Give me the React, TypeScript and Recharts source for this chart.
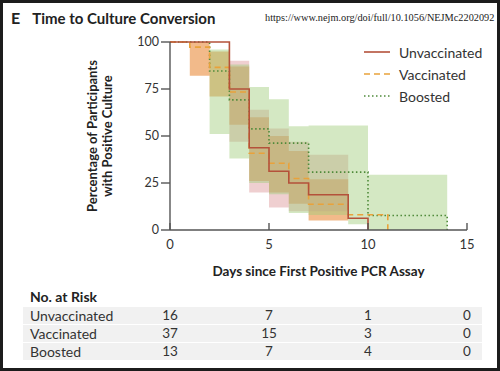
import { Area, ComposedChart, Label, Line, XAxis, YAxis } from 'recharts';

// Kaplan-Meier estimates (percent still culture-positive)
const days = [0, 1, 2, 3, 4, 5, 6, 7, 8, 9, 10, 11, 12, 13, 14, 15];
const unvaccinated = [100, 100, 100, 75, 43.75, 31.25, 25, 18.75, 18.75, 6.25, 0, null, null, null, null, null];
const vaccinated = [100, 97.3, 86.5, 73.4, 40.8, 35.5, 27.4, 13.7, 13.7, 8.1, 8.1, 0, null, null, null, null];
const boosted = [100, 100, 84.6, 69.2, 53.8, 46.2, 46.2, 30.8, 30.8, 30.8, 7.7, 7.7, 7.7, 7.7, 0, null];

// 95% confidence bands
const unvaccinatedLow = [100, 100, 100, 47, 20, 12, 10, 10, 10, 5, null, null, null, null, null, null];
const unvaccinatedHigh = [100, 100, 100, 90, 64, 54, 47, 40, 40, 5, null, null, null, null, null, null];
const vaccinatedLow = [100, 82, 71, 56, 26, 20, 14, 5, 5, 8, null, null, null, null, null, null];
const vaccinatedHigh = [100, 100, 95, 87, 60, 50, 42, 27, 27, 8, null, null, null, null, null, null];
const boostedLow = [100, 100, 51, 38, 25, 19, 9, 8, 8, 3, 0, 0, 0, 0, 0, null];
const boostedHigh = [100, 100, 96, 88, 76, 69.5, 55.2, 55.6, 55.6, 55.6, 29.4, 29.4, 29.4, 29.4, 0, null];

const xTicks = [0, 5, 10, 15];
const yTicks = [0, 25, 50, 75, 100];

const riskDays = [0, 5, 10, 15];
const riskGroups = ['Unvaccinated', 'Vaccinated', 'Boosted'];
const riskUnvaccinated = [16, 7, 1, 0];
const riskVaccinated = [37, 15, 3, 0];
const riskBoosted = [13, 7, 4, 0];

const COLORS = {
  unvaccinated: '#b4513a',
  vaccinated: '#e9a23b',
  boosted: '#4f8a3a',
  unvaccinatedBand: '#d98c8f',
  vaccinatedBand: '#e98c3c',
  boostedBand: '#9fcc7a',
};

const FONT = 'Lato, "Open Sans", sans-serif';

const band = (lo: (number | null)[], hi: (number | null)[], i: number) =>
  lo[i] == null || hi[i] == null ? null : [lo[i], hi[i]];

const data = days.map((d, i) => ({
  day: d,
  unvaccinated: unvaccinated[i],
  vaccinated: vaccinated[i],
  boosted: boosted[i],
  unvaccinatedBand: band(unvaccinatedLow, unvaccinatedHigh, i),
  vaccinatedBand: band(vaccinatedLow, vaccinatedHigh, i),
  boostedBand: band(boostedLow, boostedHigh, i),
}));

const riskRows = [riskUnvaccinated, riskVaccinated, riskBoosted];

// plot geometry (used for the at-risk table columns)
const PLOT_LEFT = 170;
const PLOT_RIGHT = 467;

const XTick = ({ x, y, payload }: any) => (
  <g>
    <line x1={x} x2={x} y1={y} y2={y - 7} stroke="#555" strokeWidth={1.4} />
    <text x={x} y={y + 19} textAnchor="middle" fill="#333" fontSize={13} fontFamily={FONT}>
      {payload.value}
    </text>
  </g>
);

const YTitle = ({ viewBox }: any) => {
  const cy = viewBox.y + viewBox.height / 2;
  return (
    <text
      transform={`translate(100, ${cy}) rotate(-90)`}
      textAnchor="middle"
      fill="#222"
      fontSize={13}
      fontWeight={700}
      fontFamily={FONT}
    >
      <tspan x={0} dy={-3}>Percentage of Participants</tspan>
      <tspan x={0} dy={15}>with Positive Culture</tspan>
    </text>
  );
};

const legendItems = [
  { label: 'Unvaccinated', color: COLORS.unvaccinated, dash: undefined },
  { label: 'Vaccinated', color: COLORS.vaccinated, dash: '6 4' },
  { label: 'Boosted', color: COLORS.boosted, dash: '1.5 2.5' },
];

const LegendBox = () => (
  <div style={{ position: 'absolute', left: 364, top: 41, fontFamily: FONT, fontSize: 14, color: '#333' }}>
    {legendItems.map((it) => (
      <div key={it.label} style={{ display: 'flex', alignItems: 'center', height: 22 }}>
        <svg width={35} height={10}>
          <line x1={0} x2={26} y1={5} y2={5} stroke={it.color} strokeWidth={1.6} strokeDasharray={it.dash} />
        </svg>
        <span>{it.label}</span>
      </div>
    ))}
  </div>
);

export default function App() {
  const colX = (d: number) => PLOT_LEFT + ((PLOT_RIGHT - PLOT_LEFT) * d) / 15;
  return (
    <div
      style={{
        position: 'absolute',
        left: 0,
        top: 0,
        width: 500,
        height: 371,
        boxSizing: 'border-box',
        border: '3px solid #1c1c1c',
        background: '#fff',
        overflow: 'hidden',
      }}
    >
      <div
        style={{
          position: 'absolute',
          left: 8,
          top: 5,
          fontFamily: FONT,
          fontWeight: 700,
          fontSize: 15,
          color: '#222',
          whiteSpace: 'nowrap',
        }}
      >
        <span style={{ marginRight: 12, fontSize: 16 }}>E</span>Time to Culture Conversion
      </div>
      <div
        style={{
          position: 'absolute',
          left: 262,
          top: 9,
          fontFamily: '"Liberation Serif", serif',
          fontSize: 10.3,
          color: '#222',
          whiteSpace: 'nowrap',
        }}
      >
        https://www.nejm.org/doi/full/10.1056/NEJMc2202092
      </div>

      <div style={{ position: 'absolute', left: -3, top: -3 }}>
        <ComposedChart width={500} height={300} data={data} margin={{ top: 42, right: 33, bottom: 20, left: 120 }}>
          <XAxis
            dataKey="day"
            type="number"
            domain={[0, 15]}
            ticks={xTicks}
            height={50}
            stroke="#555"
            strokeWidth={1.4}
            tickLine={false}
            tickSize={0}
            tickMargin={0}
            tick={<XTick />}
          >
            <Label
              value="Days since First Positive PCR Assay"
              position="insideBottom"
              offset={4}
              fill="#222"
              fontSize={13.5}
              fontWeight={700}
              fontFamily={FONT}
            />
          </XAxis>
          <YAxis
            type="number"
            domain={[0, 100]}
            ticks={yTicks}
            width={50}
            stroke="#555"
            strokeWidth={1.4}
            tickSize={9}
            tickMargin={2}
            tick={{ fill: '#333', fontSize: 12.5, fontFamily: FONT }}
          >
            <Label content={<YTitle />} />
          </YAxis>
          <Area
            type="stepAfter"
            dataKey="vaccinatedBand"
            stroke="none"
            fill={COLORS.vaccinatedBand}
            fillOpacity={0.6}
            isAnimationActive={false}
          />
          <Area
            type="stepAfter"
            dataKey="unvaccinatedBand"
            stroke="none"
            fill={COLORS.unvaccinatedBand}
            fillOpacity={0.42}
            isAnimationActive={false}
          />
          <Area
            type="stepAfter"
            dataKey="boostedBand"
            stroke="none"
            fill={COLORS.boostedBand}
            fillOpacity={0.45}
            isAnimationActive={false}
          />
          <Line
            type="stepAfter"
            dataKey="boosted"
            stroke={COLORS.boosted}
            strokeWidth={1.6}
            strokeDasharray="1.5 2.5"
            dot={false}
            isAnimationActive={false}
          />
          <Line
            type="stepAfter"
            dataKey="vaccinated"
            stroke={COLORS.vaccinated}
            strokeWidth={1.6}
            strokeDasharray="6 4"
            dot={false}
            isAnimationActive={false}
          />
          <Line
            type="stepAfter"
            dataKey="unvaccinated"
            stroke={COLORS.unvaccinated}
            strokeWidth={1.6}
            dot={false}
            isAnimationActive={false}
          />
        </ComposedChart>
      </div>

      <div style={{ position: 'absolute', left: -3, top: -3, width: 500, height: 371, fontFamily: FONT, color: '#333' }}>
        <LegendBox />
        <div style={{ position: 'absolute', left: 30, top: 288, fontSize: 14, fontWeight: 700, color: '#222' }}>
          No. at Risk
        </div>
        {riskGroups.map((g, r) => (
          <div
            key={g}
            style={{
              position: 'absolute',
              left: 23,
              top: 307 + r * 18,
              width: 459,
              height: 17,
              background: '#f1f1f1',
            }}
          >
            <span style={{ position: 'absolute', left: 7, top: 0, fontSize: 14, lineHeight: '17px' }}>{g}</span>
            {riskRows[r].map((n, c) => (
              <span
                key={c}
                style={{
                  position: 'absolute',
                  left: colX(riskDays[c]) - 23 - 20,
                  width: 40,
                  textAlign: 'center',
                  top: 0,
                  fontSize: 13.5,
                  lineHeight: '17px',
                }}
              >
                {n}
              </span>
            ))}
          </div>
        ))}
      </div>
    </div>
  );
}
